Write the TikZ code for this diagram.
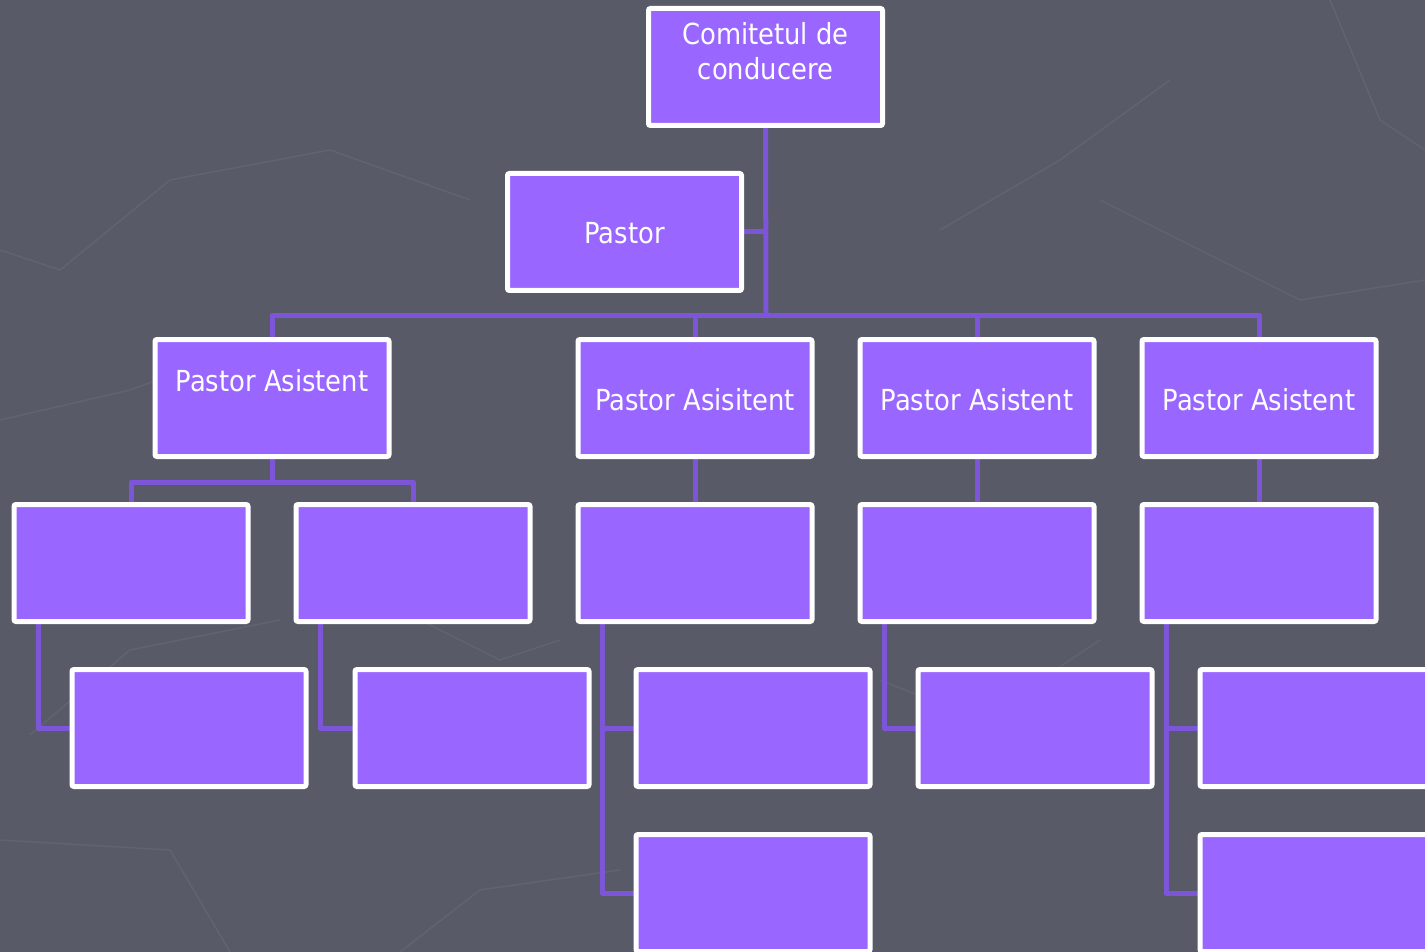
\documentclass[tikz,border=0pt]{standalone}
\usepackage{fontspec}
\setmainfont{DejaVu Sans}[FakeStretch=0.89]
\definecolor{bg}{HTML}{585A68}
\definecolor{boxfill}{HTML}{9966FF}
\definecolor{conn}{HTML}{7C55D9}
\definecolor{faint}{HTML}{616370}
\pgfdeclarelayer{backdrop}
\pgfdeclarelayer{links}
\pgfsetlayers{backdrop,links,main}
\begin{document}
\begin{tikzpicture}[x=1pt,y=-1pt,
  orgbox/.style={draw=white, line width=5pt, fill=boxfill, rounded corners=2pt,
    minimum width=234pt, minimum height=117pt, inner sep=0pt},
  lbl/.style={text=white, font=\fontsize{29}{35}\selectfont, align=center, inner sep=0pt},
  link/.style={draw=conn, line width=5pt, line join=round}]
\useasboundingbox (0,0) rectangle (1425,952);
\clip (0,0) rectangle (1425,952);
\begin{pgfonlayer}{backdrop}
\fill[bg] (0,0) rectangle (1425,952);
\begin{scope}[draw=faint, line width=1.5pt]
\draw (0,250) -- (60,270) -- (170,180) -- (330,150) -- (470,200);
\draw (0,420) -- (130,390) -- (240,350);
\draw (30,735) -- (130,650) -- (280,620);
\draw (0,840) -- (170,850) -- (230,952);
\draw (400,952) -- (480,890) -- (620,870);
\draw (1290,952) -- (1425,890);
\draw (1100,200) -- (1180,240) -- (1300,300) -- (1425,280);
\draw (940,230) -- (1060,160) -- (1170,80);
\draw (1330,0) -- (1380,120) -- (1425,150);
\draw (880,680) -- (980,720) -- (1100,640);
\draw (420,620) -- (500,660) -- (560,640);
\end{scope}
\end{pgfonlayer}
% boxes
\node[orgbox] (top) at (765.5,67) {};
\node[orgbox] (pastor) at (624.5,232) {};
\node[orgbox] (a1) at (272,398) {};
\node[orgbox] (a2) at (695,398) {};
\node[orgbox] (a3) at (977,398) {};
\node[orgbox] (a4) at (1259,398) {};
\node[orgbox] (b1) at (131,563) {};
\node[orgbox] (b2) at (413,563) {};
\node[orgbox] (b3) at (695,563) {};
\node[orgbox] (b4) at (977,563) {};
\node[orgbox] (b5) at (1259,563) {};
\node[orgbox] (c1) at (189,728) {};
\node[orgbox] (c2) at (472,728) {};
\node[orgbox] (c3) at (753,728) {};
\node[orgbox] (c4) at (1035,728) {};
\node[orgbox] (c5) at (1317,728) {};
\node[orgbox] (d1) at (753,893) {};
\node[orgbox] (d2) at (1317,893) {};
% connectors, behind the boxes
\coordinate (bus) at (766,315);
\coordinate (j1) at (272,482);
\begin{pgfonlayer}{links}
\path[link] (top.south) -- (bus);
\path[link] (pastor.east) -- (pastor.east -| top.south);
\path[link] (a1.north) -- (a1.north |- bus) -- (a4.north |- bus) -- (a4.north);
\path[link] (a2.north) -- (a2.north |- bus);
\path[link] (a3.north) -- (a3.north |- bus);
\path[link] (a1.south) -- (j1);
\path[link] (b1.north) -- (b1.north |- j1) -- (b2.north |- j1) -- (b2.north);
\path[link] (a2.south) -- (b3.north);
\path[link] (a3.south) -- (b4.north);
\path[link] (a4.south) -- (b5.north);
\path[link] ([xshift=26.5pt]b1.south west) |- (c1.west);
\path[link] ([xshift=26.5pt]b2.south west) |- (c2.west);
\path[link] ([xshift=26.5pt]b3.south west) |- (d1.west);
\path[link] ([xshift=26.5pt]b3.south west |- c3.west) -- (c3.west);
\path[link] ([xshift=26.5pt]b4.south west) |- (c4.west);
\path[link] ([xshift=26.5pt]b5.south west) |- (d2.west);
\path[link] ([xshift=26.5pt]b5.south west |- c5.west) -- (c5.west);
\end{pgfonlayer}
% labels
\node[lbl] (t-top) at (765.5,51) {Comitetul de\\conducere};
\node[lbl] (t-pastor) at (624.5,233) {Pastor};
\node[lbl] (t-a1) at (272,381) {Pastor Asistent};
\node[lbl] (t-a2) at (695,400) {Pastor Asisitent};
\node[lbl] (t-a3) at (977,400) {Pastor Asistent};
\node[lbl] (t-a4) at (1259,400) {Pastor Asistent};
\end{tikzpicture}
\end{document}
